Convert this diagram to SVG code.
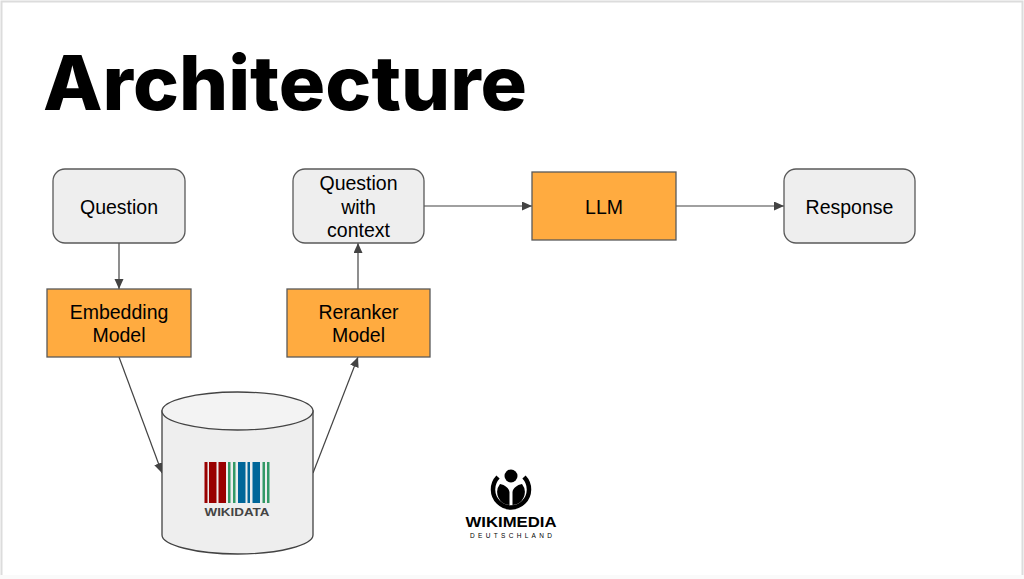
<svg xmlns="http://www.w3.org/2000/svg" width="1024" height="579" viewBox="0 0 1024 579">
<style>
.t{font-family:"Liberation Sans",Arial,sans-serif;font-size:19.5px;fill:#000;text-anchor:middle}
.g{fill:#eeeeee;stroke:#595959;stroke-width:1.3}
.o{fill:#ffab40;stroke:#595959;stroke-width:1.3}
.c{fill:none;stroke:#434343;stroke-width:1.2}
</style>
<defs>
<marker id="a" markerUnits="userSpaceOnUse" markerWidth="11" markerHeight="10" refX="10" refY="4.500" orient="auto"><path d="M0 0L10 4.500L0 9Z" fill="#434343"/></marker>
</defs>
<rect width="1024" height="579" fill="#fff"/>
<path d="M1.500 579V1.500H1022.500V575" fill="none" stroke="#dcdcdc" stroke-width="2"/>
<rect x="0" y="575" width="1024" height="4" fill="#fafafa"/>
<text id="title" x="43" y="110" font-family="Inter,'Open Sans',sans-serif" font-weight="800" font-size="75" textLength="484" lengthAdjust="spacingAndGlyphs" fill="#000">Architecture</text>
<g id="connectors">
<path class="c" marker-end="url(#a)" d="M119 243V289"/>
<path class="c" marker-end="url(#a)" d="M119 357L162 473"/>
<path class="c" marker-end="url(#a)" d="M313 473L358 357"/>
<path class="c" marker-end="url(#a)" d="M358 289V243"/>
<path class="c" marker-end="url(#a)" d="M424 206H532"/>
<path class="c" marker-end="url(#a)" d="M676 206H784"/>
</g>
<g id="question"><rect class="g" x="53" y="169" width="132" height="74" rx="12"/><text class="t" x="119" y="213.700">Question</text></g>
<g id="question-context"><rect class="g" x="293" y="169" width="131" height="74" rx="12"/><text class="t" x="358.500" y="190.200">Question</text><text class="t" x="358.500" y="213.500">with</text><text class="t" x="358.500" y="236.800">context</text></g>
<g id="llm"><rect class="o" x="532" y="172" width="144" height="68"/><text class="t" x="604" y="213.700">LLM</text></g>
<g id="response"><rect class="g" x="784" y="169" width="131" height="74" rx="12"/><text class="t" x="849.500" y="213.700">Response</text></g>
<g id="embedding"><rect class="o" x="47" y="289" width="144" height="68"/><text class="t" x="119" y="318.700">Embedding</text><text class="t" x="119" y="341.800">Model</text></g>
<g id="reranker"><rect class="o" x="287" y="289" width="143" height="68"/><text class="t" x="358.500" y="318.700">Reranker</text><text class="t" x="358.500" y="341.800">Model</text></g>
<g id="wikidata">
<path d="M162 411V535C162 545 196 554 237.500 554S313 545 313 535V411Z" fill="#eeeeee" stroke="#434343" stroke-width="1.300"/>
<ellipse cx="237.500" cy="411" rx="75.500" ry="19" fill="#f3f3f3" stroke="#434343" stroke-width="1.300"/>
<g fill="#990000"><rect x="204.500" y="462" width="3" height="41"/><rect x="209" y="462" width="7.500" height="41"/><rect x="218.500" y="462" width="7.500" height="41"/></g>
<g fill="#339966"><rect x="228" y="462" width="2.500" height="41"/><rect x="233" y="462" width="2.500" height="41"/><rect x="262.500" y="462" width="2.500" height="41"/><rect x="267" y="462" width="2.500" height="41"/></g>
<g fill="#006699"><rect x="238" y="462" width="7.500" height="41"/><rect x="247.500" y="462" width="2.500" height="41"/><rect x="252.500" y="462" width="7.500" height="41"/></g>
<text x="237" y="515.500" font-family="'Liberation Sans',Arial,sans-serif" font-weight="700" font-size="11.500" textLength="65" lengthAdjust="spacingAndGlyphs" text-anchor="middle" fill="#444">WIKIDATA</text>
</g>
<g id="wikimedia">
<circle cx="511" cy="476" r="6.500" fill="#000"/>
<path d="M498 477A18 18 0 1 0 524 477" fill="none" stroke="#000" stroke-width="4.500"/>
<path d="M500 484C505 485 509 488 509.500 492V505A13 13 0 0 1 500 484ZM522 484C517 485 513 488 512.500 492V505A13 13 0 0 0 522 484Z" fill="#000"/>
<text x="511" y="527" font-family="'Liberation Sans',Arial,sans-serif" font-weight="700" font-size="15" textLength="91" lengthAdjust="spacingAndGlyphs" text-anchor="middle" fill="#000">WIKIMEDIA</text>
<text x="511" y="537.500" font-family="'Liberation Sans',Arial,sans-serif" font-size="6.500" textLength="82" text-anchor="middle" fill="#000">DEUTSCHLAND</text>
</g>
</svg>
